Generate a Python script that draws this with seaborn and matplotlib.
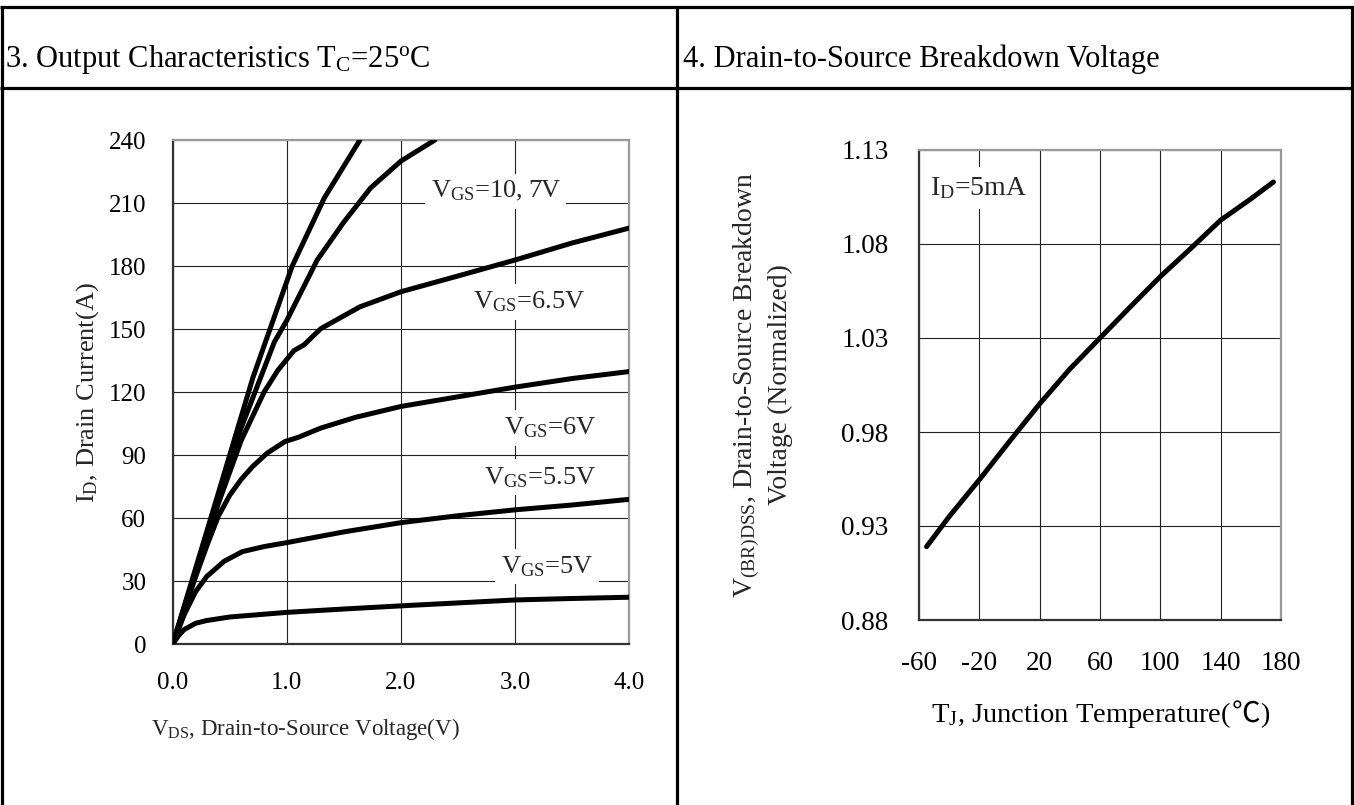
import numpy as np
import pandas as pd
import matplotlib
matplotlib.use("Agg")
import matplotlib.pyplot as plt
from matplotlib.lines import Line2D
from matplotlib.offsetbox import TextArea, HPacker, AnnotationBbox
import seaborn as sns

# ---------------- data ----------------
# Output characteristics (Tc = 25 C): V_DS (V) vs I_D (A)
vds_10 = [0, 0.2, 0.4, 0.703, 1.047, 1.328, 1.64]
id_10 = [0, 36, 72, 127, 180, 212.4, 240]

vds_7 = [0, 0.2, 0.4, 0.6, 0.89, 1.0, 1.266, 1.5, 1.734, 2.0, 2.297]
id_7 = [0, 35, 70, 103, 143.8, 154.2, 182.9, 201, 217.2, 230, 240]

vds_65 = [0, 0.2, 0.4, 0.6, 0.8, 0.92, 1.0625, 1.15, 1.297, 1.64, 2.0, 2.5, 3.0, 3.5, 4.0]
id_65 = [0, 34, 67, 97, 120, 130.3, 139.8, 142.5, 150.2, 160.6, 167.8, 175.3, 182.9, 191, 198.1]

vds_6 = [0, 0.1, 0.2, 0.3, 0.4, 0.5, 0.6, 0.7, 0.828, 0.984, 1.1, 1.297, 1.6, 2.0, 2.5, 3.0, 3.5, 4.0]
id_6 = [0, 16, 32, 47, 61, 71, 78.5, 84.6, 91, 96.5, 98.5, 102.9, 108, 113.2, 117.8, 122.4, 126.5, 129.8]

vds_55 = [0, 0.1, 0.2, 0.297, 0.45, 0.61, 0.8, 1.0, 1.5, 2.0, 2.5, 3.0, 3.5, 4.0]
id_55 = [0, 14, 25, 32.2, 39.5, 44.1, 46.5, 48.4, 53.5, 57.9, 61.2, 64, 66.3, 69]

vds_5 = [0, 0.05, 0.1, 0.2, 0.297, 0.5, 1.0, 1.5, 2.0, 2.5, 3.0, 3.5, 4.0]
id_5 = [0, 4, 7, 10, 11.3, 13, 15.2, 16.8, 18.3, 19.7, 21.1, 21.8, 22.4]

vgs_names = ["10V", "7V", "6.5V", "6V", "5.5V", "5V"]
vgs_labels = [r"V$_{\mathrm{GS}}$=10, 7V", r"V$_{\mathrm{GS}}$=6.5V", r"V$_{\mathrm{GS}}$=6V",
              r"V$_{\mathrm{GS}}$=5.5V", r"V$_{\mathrm{GS}}$=5V"]
vgs_label_x = [2.83, 3.125, 3.31, 3.22, 3.28]
vgs_label_y = [215.6, 163, 102.9, 79.5, 37]

left_xticks = [0, 1, 2, 3, 4]
left_xticklabels = ["0.0", "1.0", "2.0", "3.0", "4.0"]
left_yticks = [0, 30, 60, 90, 120, 150, 180, 210, 240]

# Breakdown voltage vs junction temperature
temp = [-55, -40, -20, 0, 20, 40, 60, 80, 100, 120, 140, 160, 175]
vbr = [0.919, 0.935, 0.9546, 0.975, 0.995, 1.0135, 1.03, 1.0465, 1.0627, 1.0775, 1.0927, 1.104, 1.113]
right_xticks = [-60, -20, 20, 60, 100, 140, 180]
right_yticks = [0.88, 0.93, 0.98, 1.03, 1.08, 1.13]
right_yticklabels = ["0.88", "0.93", "0.98", "1.03", "1.08", "1.13"]

# ---------------- style ----------------
sns.set_theme(style="white")
plt.rcParams["font.family"] = ["Liberation Serif", "DejaVu Serif"]
plt.rcParams["mathtext.fontset"] = "custom"
plt.rcParams["mathtext.rm"] = "Liberation Serif"
plt.rcParams["mathtext.it"] = "Liberation Serif:italic"
plt.rcParams["mathtext.bf"] = "Liberation Serif:bold"
plt.rcParams["mathtext.fallback"] = "stix"
plt.rcParams["axes.unicode_minus"] = False

W, H = 1354, 805
fig = plt.figure(figsize=(W / 100, H / 100), dpi=100)
fig.patch.set_facecolor("white")


def fx(px):
    return px / W


def fy(py):
    return 1 - py / H


# table borders
blw = 2.3
for (x0, x1, y0, y1) in [
    (fx(0), fx(W), fy(7.3), fy(7.3)),
    (fx(0), fx(W), fy(87.7), fy(87.7)),
    (fx(677.3), fx(677.3), fy(7.3), fy(H)),
    (fx(1.5), fx(1.5), fy(7.3), fy(H)),
    (fx(1352), fx(1352), fy(7.3), fy(H)),
]:
    fig.add_artist(Line2D([x0, x1], [y0, y1], transform=fig.transFigure,
                          color="black", lw=blw, solid_capstyle="butt"))

fig.text(fx(5), fy(66.7), r"3. Output Characteristics T$_{\mathrm{C}}$=25$^{\mathrm{o}}$C",
         fontsize=22, ha="left", va="baseline", color="black")
fig.text(fx(682.7), fy(66.7), "4. Drain-to-Source Breakdown Voltage",
         fontsize=22, ha="left", va="baseline", color="black")


def style_axes(ax, tick_fs, xpad, ypad):
    ax.set_facecolor("white")
    for s in ["left", "bottom"]:
        ax.spines[s].set_color("#333333")
        ax.spines[s].set_linewidth(1.6)
    for s in ["top", "right"]:
        ax.spines[s].set_color("#999999")
        ax.spines[s].set_linewidth(1.6)
    ax.grid(True, color="#222222", lw=0.8)
    ax.set_axisbelow(True)
    ax.tick_params(axis="both", direction="in", length=8, width=1.2, color="#333333",
                   labelsize=tick_fs, labelcolor="black")
    ax.tick_params(axis="x", pad=xpad)
    ax.tick_params(axis="y", pad=ypad)


# ---------------- left panel ----------------
ax1 = fig.add_axes([fx(172.7), fy(644.3), fx(629.3 - 172.7), (644.3 - 140) / H])
frames = []
for name, xs, ys in zip(vgs_names, [vds_10, vds_7, vds_65, vds_6, vds_55, vds_5],
                        [id_10, id_7, id_65, id_6, id_55, id_5]):
    frames.append(pd.DataFrame({"vds": xs, "id": ys, "vgs": name}))
df = pd.concat(frames, ignore_index=True)
sns.lineplot(data=df, x="vds", y="id", units="vgs", estimator=None, sort=False,
             color="black", lw=3.6, ax=ax1, legend=False, zorder=4)
ax1.set_xlim(0, 4)
ax1.set_ylim(0, 240)
ax1.set_xticks(left_xticks)
ax1.set_xticklabels(left_xticklabels)
ax1.set_yticks(left_yticks)
ax1.set_xlabel("")
ax1.set_ylabel("")
style_axes(ax1, 18, 20, 19)

for lab, lx, ly in zip(vgs_labels, vgs_label_x, vgs_label_y):
    ax1.text(lx, ly, lab, fontsize=19, ha="center", va="center", zorder=3,
             bbox=dict(facecolor="white", edgecolor="none", pad=4))

ax1.text((305 - 172.7) / 456.6, -0.168, r"V$_{\mathrm{DS}}$, Drain-to-Source Voltage(V)",
         transform=ax1.transAxes, fontsize=16.5, ha="center", va="center")
ax1.text((88 - 172.7) / 456.6, 0.5, r"I$_{\mathrm{D}}$, Drain Current(A)", transform=ax1.transAxes,
         fontsize=19, ha="center", va="center", rotation=90)

# ---------------- right panel ----------------
ax2 = fig.add_axes([fx(919), fy(620), fx(1281 - 919), (620 - 150) / H])
sns.lineplot(x=temp, y=vbr, color="black", lw=3.6, ax=ax2, legend=False, zorder=4)
ax2.set_xlim(-60, 180)
ax2.set_ylim(0.88, 1.13)
ax2.set_xticks(right_xticks)
ax2.set_yticks(right_yticks)
ax2.set_yticklabels(right_yticklabels)
style_axes(ax2, 19.5, 22, 22)

ax2.text(-52.7, 1.1098, r"I$_{\mathrm{D}}$=5mA", fontsize=20, ha="left", va="center", zorder=3,
         bbox=dict(facecolor="white", edgecolor="none", pad=6))

# x label with the CJK degree-Celsius sign
parts = [
    TextArea("T$_{\\mathrm{J}}$, Junction Temperature(", textprops=dict(fontsize=20.5, color="black")),
    TextArea("\u2103", textprops=dict(fontsize=20.5, color="black",
                                      family=["Noto Sans CJK SC", "DejaVu Sans"])),
    TextArea(")", textprops=dict(fontsize=20.5, color="black")),
]
pack = HPacker(children=parts, align="baseline", pad=0, sep=0)
ab = AnnotationBbox(pack, (0.5, -0.202), xycoords="axes fraction", frameon=False,
                    box_alignment=(0.5, 0.5), pad=0, annotation_clip=False)
ax2.add_artist(ab)

ax2.text((762 - 919) / 362, 0.5, "V$_{\\mathrm{(BR)DSS}}$, Drain-to-Source Breakdown\nVoltage (Normalized)",
         transform=ax2.transAxes, fontsize=20, ha="center", va="center", rotation=90,
         multialignment="center", linespacing=1.3)

fig.savefig("out.png", dpi=100, facecolor="white")
